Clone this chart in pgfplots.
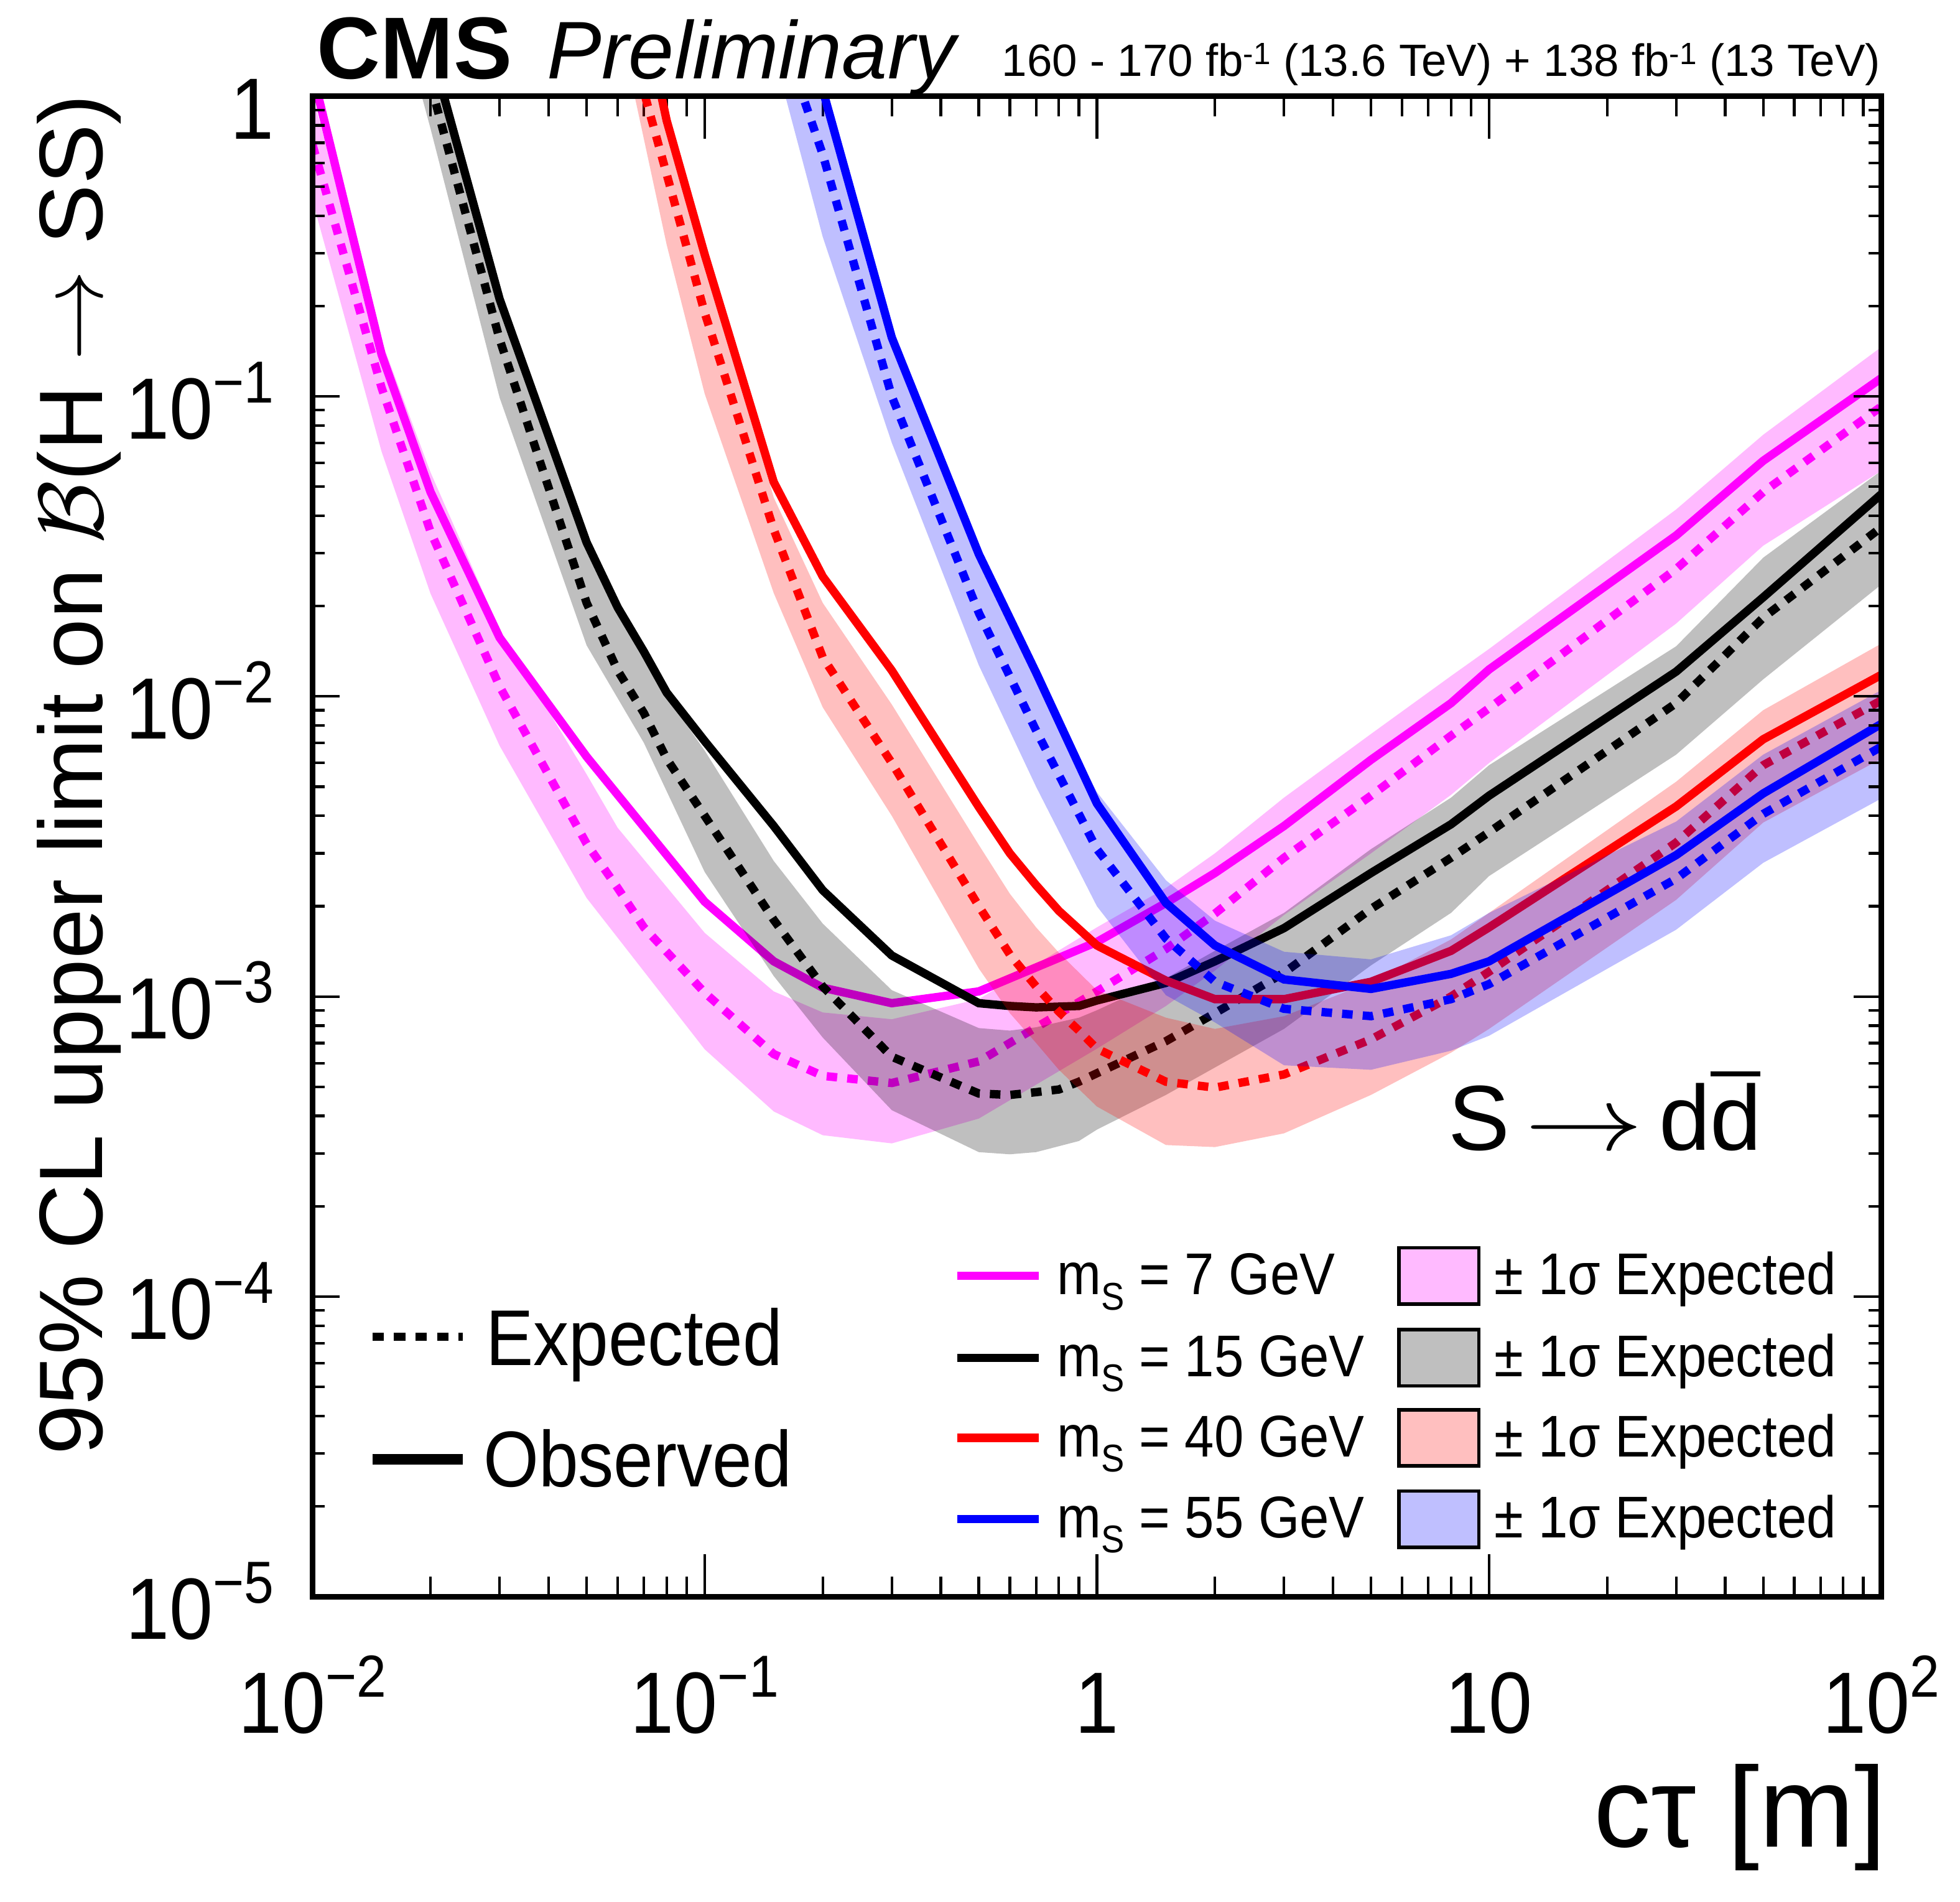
\documentclass[border=0pt]{standalone}
\usepackage{fontspec}
\setmainfont{Liberation Sans}
\newfontfamily\condfont{Liberation Sans}[FakeStretch=0.9]
\usepackage{pgfplots}
\pgfplotsset{compat=1.18}
\definecolor{cmag}{RGB}{255,0,255}
\definecolor{cred}{RGB}{255,0,0}
\definecolor{cblue}{RGB}{0,0,255}
\newcommand{\tklab}[1]{10\raisebox{0.29cm}{\fontsize{13.5}{14}\selectfont #1}}
\newcommand{\dbarx}{\leavevmode\rlap{\raisebox{0.8em}{\rule{0.54em}{0.055em}}}d}
\newcommand{\msubx}{m\raisebox{-0.12cm}{\fontsize{8.8}{9}\selectfont S}}
\pgfplotsset{
  obs/.style={line width=1.9pt},
  expd/.style={line width=1.9pt, dash pattern=on 2.4pt off 2.3pt},
}
\begin{document}
\begin{tikzpicture}
\useasboundingbox (-2.50,-2.44) rectangle (13.18,12.77);
\begin{axis}[
  at={(0,0)}, anchor=south west, scale only axis, width=12.55cm, height=12cm,
  xmode=log, ymode=log, xmin=0.01, xmax=100, ymin=1e-5, ymax=1,
  axis line style={line width=1.3pt},
  xtick pos=both, ytick pos=both,
  xtick={0.01,0.1,1,10,100},
  xticklabels={\tklab{−2},\tklab{−1},1,10,\tklab{2}},
  minor xtick={0.02,0.03,0.04,0.05,0.06,0.07,0.08,0.09,0.2,0.3,0.4,0.5,0.6,0.7,0.8,0.9,2,3,4,5,6,7,8,9,20,30,40,50,60,70,80,90},
  ytick=\empty,
  major tick length=0.34cm, minor tick length=0.16cm,
  every tick/.style={line width=0.6pt, black},
  xticklabel style={anchor=base, yshift=-1.09cm, inner sep=0pt, font=\condfont\fontsize{19.8}{20}\selectfont},
]
% ---------- m_S = 7 GeV ----------
\addplot[draw=none, fill=cmag, fill opacity=0.27] coordinates {
(0.01,1.0) (0.015,0.153) (0.02,0.0558) (0.03,0.0167) (0.05,0.0055) (0.06,0.00365) (0.1,0.00163) (0.15,0.00104) (0.2,0.000885) (0.3,0.00084) (0.5,0.00098) (1,0.0017) (1.5,0.0023) (2,0.003) (3,0.0046) (5,0.0075) (8,0.0117) (10,0.0144) (30,0.042) (50,0.0745) (100,0.146)
(100,0.0565) (50,0.0318) (30,0.0175) (10,0.006) (8,0.0047) (5,0.003) (3,0.00187) (2,0.00122) (1.5,0.00093) (1,0.00067) (0.5,0.000392) (0.3,0.000324) (0.2,0.000345) (0.15,0.000414) (0.1,0.000667) (0.06,0.00157) (0.05,0.00213) (0.03,0.00685) (0.02,0.022) (0.015,0.0655) (0.01,0.45)
};
\addplot[cmag, expd] coordinates {
(0.01,0.69) (0.015,0.107) (0.02,0.0354) (0.03,0.0108) (0.05,0.00323) (0.06,0.0023) (0.07,0.0017) (0.1,0.00103) (0.15,0.000643) (0.2,0.000544) (0.3,0.000515) (0.5,0.000608) (1,0.00104) (1.5,0.00144) (2,0.00189) (3,0.0029) (5,0.00467) (8,0.0074) (10,0.00914) (30,0.0266) (50,0.048) (100,0.0925)};
\addplot[cmag, obs] coordinates {
(0.01,1.2) (0.015,0.138) (0.02,0.048) (0.03,0.0157) (0.05,0.0063) (0.1,0.00207) (0.15,0.00131) (0.2,0.00107) (0.3,0.00095) (0.5,0.00104) (1,0.00152) (1.5,0.00205) (2,0.00258) (3,0.0037) (5,0.00615) (8,0.0095) (10,0.0123) (30,0.0344) (50,0.061) (100,0.115)};
% ---------- m_S = 15 GeV ----------
\addplot[draw=none, fill=black, fill opacity=0.25] coordinates {
(0.0205,1.3) (0.03,0.22) (0.05,0.034) (0.06,0.020) (0.07,0.0143) (0.08,0.0100) (0.1,0.0066) (0.15,0.00283) (0.2,0.00175) (0.3,0.00105) (0.5,0.000785) (0.6,0.00077) (0.7,0.00079) (0.9,0.00085) (1,0.0009) (1.5,0.00115) (2,0.00142) (3,0.0019) (5,0.0031) (8,0.0046) (10,0.0059) (30,0.0147) (50,0.029) (100,0.0565)
(100,0.0236) (50,0.0114) (30,0.0064) (10,0.00252) (8,0.0019) (5,0.00127) (3,0.00078) (2,0.00058) (1.5,0.00047) (1,0.00036) (0.9,0.00033) (0.7,0.000303) (0.6,0.000298) (0.5,0.000303) (0.3,0.000418) (0.2,0.00073) (0.15,0.00117) (0.1,0.0026) (0.07,0.0070) (0.05,0.0148) (0.03,0.099) (0.02,0.78) (0.018,1.3)
};
\addplot[black, expd] coordinates {
(0.02,1.1) (0.03,0.155) (0.05,0.0205) (0.06,0.0122) (0.07,0.0088) (0.08,0.0062) (0.1,0.0040) (0.15,0.0018) (0.2,0.00108) (0.3,0.00063) (0.5,0.000475) (0.6,0.00047) (0.7,0.00048) (0.8,0.00049) (0.9,0.00052) (1,0.000555) (1.5,0.00071) (2,0.00088) (3,0.0012) (5,0.00196) (8,0.0029) (10,0.00353) (30,0.0095) (50,0.0183) (100,0.0366)};
\addplot[black, obs] coordinates {
(0.02,1.45) (0.03,0.211) (0.05,0.0326) (0.06,0.0198) (0.07,0.0141) (0.08,0.0103) (0.1,0.0071) (0.15,0.0037) (0.2,0.00226) (0.3,0.00137) (0.5,0.00095) (0.6,0.00093) (0.7,0.00092) (0.9,0.00093) (1,0.00097) (1.5,0.00111) (2,0.00131) (3,0.00169) (5,0.00258) (8,0.00375) (10,0.00467) (30,0.0121) (50,0.0214) (100,0.0472)};
% ---------- m_S = 40 GeV ----------
\addplot[draw=none, fill=cred, fill opacity=0.25] coordinates {
(0.075,1.1) (0.08,0.8) (0.1,0.29) (0.15,0.046) (0.2,0.0205) (0.3,0.0094) (0.5,0.0032) (0.6,0.0022) (0.7,0.0017) (0.8,0.0014) (1,0.00105) (1.5,0.00085) (2,0.00078) (3,0.00086) (5,0.00112) (8,0.00155) (10,0.0019) (30,0.0052) (50,0.0090) (100,0.015)
(100,0.0062) (50,0.0038) (30,0.0021) (10,0.00078) (8,0.00065) (5,0.00047) (3,0.00035) (2,0.000315) (1.5,0.00032) (1,0.00043) (0.8,0.00057) (0.7,0.0007) (0.6,0.00088) (0.5,0.00124) (0.3,0.0040) (0.2,0.0092) (0.15,0.0221) (0.1,0.102) (0.08,0.32) (0.0663,1.0) (0.065,1.2)
};
\addplot[cred, expd] coordinates {
(0.0705,1.0) (0.08,0.55) (0.1,0.19) (0.15,0.036) (0.2,0.0135) (0.3,0.0060) (0.5,0.0020) (0.6,0.00138) (0.7,0.00108) (0.8,0.00089) (0.9,0.00077) (1,0.00067) (1.5,0.00052) (2,0.000497) (3,0.00055) (5,0.00072) (8,0.00100) (10,0.00121) (30,0.00326) (50,0.0059) (100,0.0097)};
\addplot[cred, obs] coordinates {
(0.075,1.25) (0.0776,1.0) (0.08,0.83) (0.1,0.297) (0.15,0.0518) (0.2,0.0251) (0.3,0.0122) (0.5,0.00428) (0.6,0.0030) (0.7,0.00235) (0.8,0.00193) (1,0.00148) (1.5,0.00113) (2,0.00098) (3,0.00098) (5,0.00112) (8,0.00142) (10,0.0017) (30,0.0043) (50,0.0072) (100,0.0118)};
% ---------- m_S = 55 GeV ----------
\addplot[draw=none, fill=cblue, fill opacity=0.25] coordinates {
(0.19,1.3) (0.2,1.0) (0.3,0.15) (0.5,0.029) (0.7,0.0117) (1,0.0048) (1.5,0.00244) (2,0.00179) (3,0.00141) (5,0.00133) (8,0.0016) (10,0.0019) (30,0.00383) (50,0.0064) (100,0.0105)
(100,0.00457) (50,0.00279) (30,0.00167) (10,0.00074) (8,0.00066) (5,0.00057) (3,0.00059) (2,0.00082) (1.5,0.00101) (1,0.002) (0.7,0.005) (0.5,0.0127) (0.3,0.07) (0.2,0.34) (0.15,1.4)
};
\addplot[cblue, expd] coordinates {
(0.16,1.5) (0.2,0.64) (0.3,0.10) (0.5,0.019) (0.7,0.0077) (1,0.0031) (1.5,0.00156) (2,0.00112) (3,0.00091) (5,0.00086) (8,0.00098) (10,0.0011) (30,0.00247) (50,0.00406) (100,0.0068)};
\addplot[cblue, obs] coordinates {
(0.19,1.3) (0.2,1.05) (0.3,0.157) (0.5,0.0298) (0.7,0.012) (1,0.0044) (1.5,0.00205) (2,0.00148) (3,0.00114) (5,0.00106) (8,0.00119) (10,0.00131) (30,0.00296) (50,0.00475) (100,0.0081)};
\end{axis}
\begin{axis}[
  at={(0,0)}, anchor=south west, scale only axis, width=12.55cm, height=12cm,
  xmode=log, ymode=log, xmin=0.01, xmax=100, ymin=0.00001, ymax=1,
  axis line style={line width=1.3pt},
  xtick pos=both, ytick pos=both,
  xtick=\empty,
  ytick={0.00001,0.0001,0.001,0.01,0.1,1},
  yticklabels={\tklab{−5},\tklab{−4},\tklab{−3},\tklab{−2},\tklab{−1},1},
  minor ytick={0.00002,0.00003,0.00004,0.00005,0.00006,0.00007,0.00008,0.00009,0.0002,0.0003,0.0004,0.0005,0.0006,0.0007,0.0008,0.0009,0.002,0.003,0.004,0.005,0.006,0.007,0.008,0.009,0.02,0.03,0.04,0.05,0.06,0.07,0.08,0.09,0.2,0.3,0.4,0.5,0.6,0.7,0.8,0.9},
  major tick length=0.22cm, minor tick length=0.10cm,
  every tick/.style={line width=0.6pt, black},
  yticklabel style={anchor=base east, xshift=-0.30cm, yshift=-0.34cm, inner sep=0pt, font=\condfont\fontsize{19.8}{20}\selectfont},
]
\end{axis}
% titles
\node[anchor=base west, inner sep=0pt, font=\fontsize{20}{22}\selectfont\bfseries] at (0.03,12.14) {CMS};
\node[anchor=base west, inner sep=0pt, font=\fontsize{18.6}{20}\selectfont\itshape] at (1.87,12.14) {Preliminary};
\node[anchor=base east, inner sep=0pt, font=\fontsize{10.3}{12}\selectfont] at (12.55,12.16) {160 - 170 fb\raisebox{0.5ex}{\fontsize{7}{8}\selectfont -1} (13.6 TeV) + 138 fb\raisebox{0.5ex}{\fontsize{7}{8}\selectfont -1} (13 TeV)};
% axis labels
\node[rotate=90, anchor=base east, inner sep=0pt, font=\fontsize{20.5}{23}\selectfont] at (-1.68,12.02) {95\% CL upper limit on $\mathcal{B}$(H $\rightarrow$ SS)};
\node[anchor=base east, inner sep=0pt, font=\fontsize{26}{28}\selectfont] at (12.60,-2.00) {cτ [m]};
\node[anchor=base east, inner sep=0pt, font=\fontsize{21}{24}\selectfont] at (11.60,3.57) {S\,\scalebox{1.3}[1]{$\rightarrow$}\,d\dbarx};
% left legend
\draw[black, line width=1.8pt, dash pattern=on 2.6pt off 2.3pt] (0.48,2.08) -- (1.20,2.08);
\draw[black, line width=2.4pt] (0.48,1.10) -- (1.20,1.10);
\node[anchor=base west, inner sep=0pt, font=\condfont\fontsize{18}{20}\selectfont] at (1.38,1.85) {Expected};
\node[anchor=base west, inner sep=0pt, font=\condfont\fontsize{18}{20}\selectfont] at (1.36,0.88) {Observed};
% right legend
\draw[cmag, line width=1.9pt] (5.16,2.565) -- (5.81,2.565);
\draw[black, line width=1.9pt] (5.16,1.91) -- (5.81,1.91);
\draw[cred, line width=1.9pt] (5.16,1.27) -- (5.81,1.27);
\draw[cblue, line width=1.9pt] (5.16,0.62) -- (5.81,0.62);
\node[anchor=base west, inner sep=0pt, font=\condfont\fontsize{13.4}{15}\selectfont] at (5.95,2.415) {\msubx\ = 7 GeV};
\node[anchor=base west, inner sep=0pt, font=\condfont\fontsize{13.4}{15}\selectfont] at (5.95,1.76) {\msubx\ = 15 GeV};
\node[anchor=base west, inner sep=0pt, font=\condfont\fontsize{13.4}{15}\selectfont] at (5.95,1.12) {\msubx\ = 40 GeV};
\node[anchor=base west, inner sep=0pt, font=\condfont\fontsize{13.4}{15}\selectfont] at (5.95,0.47) {\msubx\ = 55 GeV};
\filldraw[fill=cmag!27, draw=black, line width=0.8pt] (8.69,2.34) rectangle (9.33,2.79);
\filldraw[fill=black!25, draw=black, line width=0.8pt] (8.69,1.685) rectangle (9.33,2.135);
\filldraw[fill=cred!25, draw=black, line width=0.8pt] (8.69,1.045) rectangle (9.33,1.495);
\filldraw[fill=cblue!25, draw=black, line width=0.8pt] (8.69,0.395) rectangle (9.33,0.845);
\node[anchor=base west, inner sep=0pt, font=\condfont\fontsize{13.4}{15}\selectfont] at (9.45,2.415) {± 1σ Expected};
\node[anchor=base west, inner sep=0pt, font=\condfont\fontsize{13.4}{15}\selectfont] at (9.45,1.76) {± 1σ Expected};
\node[anchor=base west, inner sep=0pt, font=\condfont\fontsize{13.4}{15}\selectfont] at (9.45,1.12) {± 1σ Expected};
\node[anchor=base west, inner sep=0pt, font=\condfont\fontsize{13.4}{15}\selectfont] at (9.45,0.47) {± 1σ Expected};
\end{tikzpicture}
\end{document}
